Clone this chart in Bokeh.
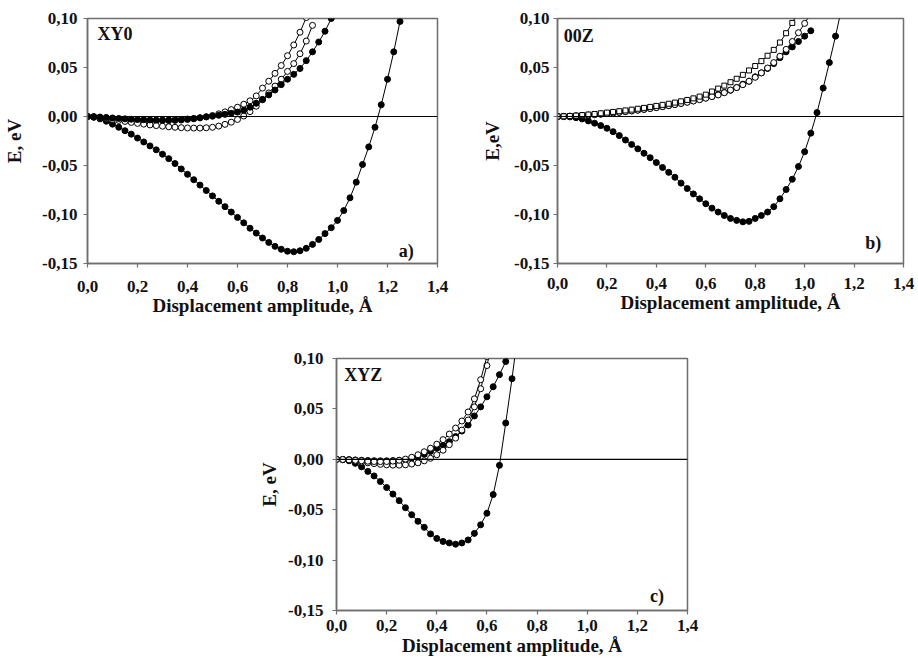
from bokeh.plotting import figure
from bokeh.models import Range1d, FixedTicker, CustomJSTickFormatter, Span, Label, Spacer
from bokeh.layouts import column, row
from bokeh.embed import file_html
from bokeh.resources import INLINE

# ---------------- data ----------------
STEP = 0.025  # sampling step of the displacement amplitude (Å)
X_TICKS = [0.0, 0.2, 0.4, 0.6, 0.8, 1.0, 1.2, 1.4]
Y_TICKS = [-0.15, -0.10, -0.05, 0.0, 0.05, 0.10]

# panel a) XY0
a_deep = [0, -0.0008, -0.0024, -0.0048, -0.0078, -0.011, -0.0145, -0.018, -0.022, -0.026,
          -0.030, -0.034, -0.0385, -0.043, -0.048, -0.0535, -0.059, -0.0645, -0.070, -0.0755,
          -0.081, -0.0865, -0.092, -0.0975, -0.103, -0.1085, -0.114, -0.119, -0.124, -0.1285,
          -0.1325, -0.1355, -0.1375, -0.138, -0.137, -0.1345, -0.1305, -0.1255, -0.1195, -0.1135,
          -0.106, -0.096, -0.083, -0.067, -0.049, -0.031, -0.011, 0.012, 0.038, 0.066, 0.097]
a_open1 = [0, -0.0003, -0.0008, -0.0014, -0.002, -0.0026, -0.0031, -0.0035, -0.0038, -0.004,
           -0.0042, -0.0043, -0.0043, -0.0042, -0.004, -0.0036, -0.003, -0.0023, -0.0014, -0.0003,
           0.001, 0.0027, 0.0047, 0.007, 0.0095, 0.0125, 0.016, 0.021, 0.029, 0.036,
           0.044, 0.052, 0.062, 0.073, 0.086, 0.101]
a_open2 = [0, -0.0004, -0.0012, -0.002, -0.003, -0.004, -0.005, -0.006, -0.007, -0.0078,
           -0.0086, -0.0093, -0.0099, -0.0105, -0.011, -0.0114, -0.0117, -0.0118, -0.0118, -0.0115,
           -0.011, -0.0098, -0.008, -0.0058, -0.003, 0.0005, 0.005, 0.0105, 0.017, 0.024,
           0.031, 0.038, 0.046, 0.054, 0.064, 0.077, 0.093]
a_fill = [0, -0.0002, -0.0006, -0.001, -0.0015, -0.002, -0.0024, -0.0028, -0.0031, -0.0033,
          -0.0035, -0.0036, -0.0036, -0.0035, -0.0033, -0.003, -0.0026, -0.002, -0.0013, -0.0004,
          0.0003, 0.0012, 0.0022, 0.0032, 0.0045, 0.0065, 0.0095, 0.0135, 0.0175, 0.022,
          0.027, 0.0325, 0.038, 0.043, 0.049, 0.057, 0.066, 0.076, 0.087, 0.100]

# panel b) 00Z
b_deep = [0, -0.0001, -0.0004, -0.0012, -0.0025, -0.0045, -0.0068, -0.0093, -0.012, -0.0155,
          -0.0195, -0.024, -0.0285, -0.033, -0.0375, -0.042, -0.047, -0.052, -0.057, -0.062,
          -0.068, -0.0735, -0.079, -0.084, -0.089, -0.0935, -0.0975, -0.101, -0.104, -0.106,
          -0.1075, -0.107, -0.104, -0.101, -0.0975, -0.092, -0.084, -0.0745, -0.064, -0.051,
          -0.036, -0.017, 0.004, 0.029, 0.055, 0.082, 0.111]
b_square = [0, 0.0002, 0.0005, 0.0009, 0.0014, 0.002, 0.0026, 0.0033, 0.004, 0.0047,
            0.0054, 0.0062, 0.007, 0.0079, 0.0088, 0.0098, 0.0108, 0.0119, 0.013, 0.0142,
            0.0155, 0.0169, 0.0185, 0.0203, 0.0223, 0.0255, 0.0285, 0.0315, 0.035, 0.0385,
            0.0425, 0.047, 0.0515, 0.0565, 0.062, 0.068, 0.0755, 0.085, 0.0955, 0.107]
b_open = [0, 0.0001, 0.0003, 0.0006, 0.001, 0.0014, 0.0019, 0.0024, 0.003, 0.0036,
          0.0043, 0.005, 0.0057, 0.0065, 0.0073, 0.0082, 0.0091, 0.0101, 0.0111, 0.0122,
          0.0133, 0.0145, 0.0158, 0.0172, 0.0187, 0.0203, 0.022, 0.0243, 0.027, 0.0295,
          0.0325, 0.036, 0.040, 0.0445, 0.0495, 0.055, 0.0615, 0.0685, 0.0765, 0.0855,
          0.095, 0.1055]
b_fill = [0, 0.0001, 0.0003, 0.0006, 0.001, 0.0014, 0.0019, 0.0024, 0.003, 0.0036,
          0.0043, 0.005, 0.0057, 0.0065, 0.0073, 0.0082, 0.0091, 0.0101, 0.0111, 0.0122,
          0.0134, 0.0147, 0.016, 0.0174, 0.0189, 0.0205, 0.0224, 0.0245, 0.0268, 0.0297,
          0.033, 0.036, 0.0405, 0.0445, 0.049, 0.054, 0.060, 0.066, 0.071, 0.0765,
          0.082, 0.0875]

# panel c) XYZ
c_deep = [0, -0.0004, -0.0015, -0.004, -0.0075, -0.012, -0.0165, -0.022, -0.028, -0.0345,
          -0.041, -0.048, -0.055, -0.0615, -0.0675, -0.074, -0.0785, -0.0815, -0.083, -0.0842,
          -0.083, -0.080, -0.0735, -0.065, -0.0535, -0.035, -0.006, 0.036, 0.080, 0.128]
c_openA = [0, -0.0002, -0.0006, -0.001, -0.0015, -0.0019, -0.0022, -0.0023, -0.0022, -0.0018,
           -0.001, 0.0002, 0.002, 0.0045, 0.0075, 0.011, 0.015, 0.0195, 0.025, 0.031,
           0.038, 0.047, 0.060, 0.079, 0.102]
c_openB = [0, -0.0003, -0.001, -0.0018, -0.0027, -0.0035, -0.0043, -0.005, -0.0055, -0.0058,
           -0.0058, -0.0055, -0.0047, -0.0035, -0.0015, 0.001, 0.0045, 0.009, 0.0145, 0.021,
           0.029, 0.039, 0.052, 0.070, 0.093, 0.120]
c_fill = [0, -0.0001, -0.0003, -0.0006, -0.0009, -0.0012, -0.0014, -0.0015, -0.0015, -0.0013,
          -0.001, -0.0005, 0.0012, 0.0028, 0.005, 0.0078, 0.011, 0.014, 0.0175, 0.0225,
          0.028, 0.034, 0.043, 0.052, 0.062, 0.072, 0.084, 0.097, 0.112]

# ---------------- styling ----------------
FONT = "Liberation Serif"
TXT = "#111111"
FRAME = "#6e6e6e"


def xs(ys):
    return [round(i * STEP, 4) for i in range(len(ys))]


def panel(width, height, borders, ytitle, tag, tag_xy, corner, corner_xy, series,
          ylab_so, ytitle_so, xlab_so, xtitle_so):
    p = figure(width=width, height=height, x_range=Range1d(0, 1.4), y_range=Range1d(-0.15, 0.10),
               output_backend="svg", toolbar_location=None)
    p.min_border_left, p.min_border_right, p.min_border_top, p.min_border_bottom = borders
    p.background_fill_color = "white"
    p.border_fill_color = "white"
    p.outline_line_color = FRAME
    p.outline_line_width = 1.5
    p.xgrid.visible = False
    p.ygrid.visible = False

    p.xaxis.ticker = FixedTicker(ticks=X_TICKS)
    p.yaxis.ticker = FixedTicker(ticks=Y_TICKS)
    p.xaxis.formatter = CustomJSTickFormatter(code="return tick.toFixed(1).replace('.', ',');")
    p.yaxis.formatter = CustomJSTickFormatter(code="return tick.toFixed(2).replace('.', ',');")
    for ax in (p.xaxis[0], p.yaxis[0]):
        ax.axis_line_color = FRAME
        ax.axis_line_width = 1.5
        ax.major_tick_line_color = FRAME
        ax.major_tick_line_width = 1.2
        ax.major_tick_out = 4
        ax.major_tick_in = 0
        ax.minor_tick_line_color = None
        ax.major_label_text_font = FONT
        ax.major_label_text_font_style = "bold"
        ax.major_label_text_font_size = "17px"
        ax.major_label_text_color = TXT
        ax.axis_label_text_font = FONT
        ax.axis_label_text_font_style = "bold"
        ax.axis_label_text_font_size = "19px"
        ax.axis_label_text_color = TXT
    p.xaxis.axis_label = "Displacement amplitude, Å"
    p.yaxis.axis_label = ytitle
    p.yaxis.major_label_standoff = ylab_so
    p.yaxis.axis_label_standoff = ytitle_so
    p.xaxis.major_label_standoff = xlab_so
    p.xaxis.axis_label_standoff = xtitle_so

    p.add_layout(Span(location=0, dimension="width", line_color="black", line_width=1.2))

    for ys, marker, fill, size in series:
        x = xs(ys)
        p.line(x, ys, line_color="black", line_width=1)
        p.scatter(x, ys, marker=marker, size=size, fill_color=fill, line_color="black", line_width=1)

    p.add_layout(Label(x=tag_xy[0], y=tag_xy[1], text=tag, text_font=FONT, text_font_style="bold",
                       text_font_size="18px", text_color=TXT, text_align="left", text_baseline="top"))
    p.add_layout(Label(x=corner_xy[0], y=corner_xy[1], text=corner, text_font=FONT,
                       text_font_style="bold", text_font_size="18px", text_color=TXT,
                       text_align="right", text_baseline="alphabetic"))
    return p


pa = panel(458, 322, (87, 21, 18, 59), "E, eV", "XY0", (0.04, 0.094), "a)", (1.305, -0.137),
           [(a_deep, "circle", "black", 6),
            (a_open1, "circle", "white", 6),
            (a_open2, "circle", "white", 6),
            (a_fill, "circle", "black", 6)],
           6, 14, 13, 0)

pb = panel(460, 322, (99, 15, 18, 56), "E,eV", "00Z", (0.025, 0.092), "b)", (1.31, -0.129),
           [(b_deep, "circle", "black", 6),
            (b_fill, "circle", "black", 6),
            (b_open, "circle", "white", 6),
            (b_square, "square", "white", 5)],
           4, 8, 10, 0)

pc = panel(451, 340, (74, 20, 36, 52), "E, eV", "XYZ", (0.031, 0.094), "c)", (1.306, -0.136),
           [(c_deep, "circle", "black", 6),
            (c_fill, "circle", "black", 6),
            (c_openB, "circle", "white", 6),
            (c_openA, "circle", "white", 6)],
           9, 5, 5, 1)

layout = column(row(pa, pb), row(Spacer(width=256, height=340), pc))

open("out.html", "w").write(file_html(layout, INLINE, title="Displacement energy"))
